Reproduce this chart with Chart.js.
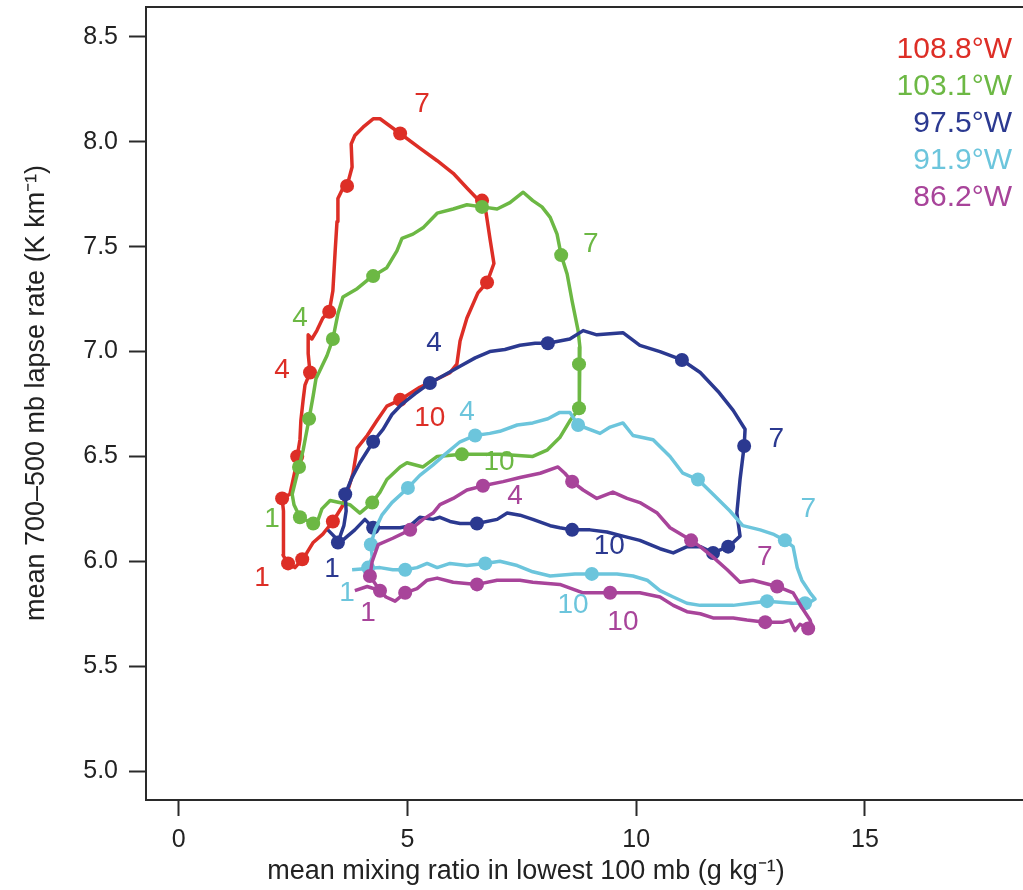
<!DOCTYPE html>
<html>
<head>
<meta charset="utf-8">
<script src="https://cdn.jsdelivr.net/npm/chart.js@4.4.1/dist/chart.umd.min.js"></script>
<style>
    html, body { margin: 0; padding: 0; background: #fff; }
    #wrap { width: 1023px; height: 890px; position: relative; }
</style>
</head>
<body>
<div id="wrap"><canvas id="loopChart"></canvas></div>
<script>
// Series names (longitude of each transect point)
const seriesNames = ['108.8°W', '103.1°W', '97.5°W', '91.9°W', '86.2°W'];

// Each point: [mixing ratio (g/kg), lapse rate (K/km), month marker (0 = none)]
const w1088 = [
    [2.39,5.99,1],[2.28,6.03,0],[2.28,6.15,0],[2.30,6.24,0],[2.26,6.30,2],[2.43,6.32,0],[2.50,6.39,0],
    [2.54,6.43,0],[2.59,6.50,3],[2.65,6.58,0],[2.67,6.67,0],[2.72,6.77,0],[2.76,6.84,0],[2.87,6.90,4],
    [2.83,6.99,0],[2.83,7.08,0],[2.91,7.06,0],[3.02,7.10,0],[3.15,7.16,0],[3.29,7.19,5],[3.37,7.29,0],
    [3.42,7.48,0],[3.46,7.62,0],[3.48,7.73,0],[3.57,7.77,0],[3.68,7.79,6],[3.79,7.88,0],[3.77,7.99,0],
    [3.85,8.03,0],[4.03,8.07,0],[4.25,8.11,0],[4.40,8.11,0],[4.84,8.04,7],[5.27,7.97,0],[5.65,7.91,0],
    [6.00,7.85,0],[6.30,7.78,0],[6.52,7.73,0],[6.63,7.72,8],[6.72,7.66,0],[6.81,7.53,0],[6.89,7.42,0],
    [6.74,7.33,9],[6.54,7.28,0],[6.30,7.16,0],[6.15,7.05,0],[6.08,6.94,0],[5.93,6.90,0],[5.56,6.86,0],
    [5.27,6.83,0],[4.84,6.77,10],[4.55,6.74,0],[4.33,6.67,0],[4.12,6.60,0],[3.90,6.54,0],[3.81,6.42,0],
    [3.70,6.34,0],[3.57,6.26,0],[3.37,6.19,11],[3.15,6.13,0],[2.94,6.09,0],[2.80,6.04,0],[2.70,6.01,12],
    [2.54,5.97,0],[2.39,5.99,0]
];
const w1031 = [
    [2.65,6.21,1],[2.52,6.27,0],[2.48,6.32,0],[2.56,6.39,0],[2.63,6.45,2],[2.72,6.53,0],[2.78,6.60,0],
    [2.85,6.68,3],[2.94,6.79,0],[3.00,6.87,0],[3.13,6.93,0],[3.24,6.98,0],[3.37,7.06,4],[3.48,7.18,0],
    [3.59,7.26,0],[3.90,7.30,0],[4.12,7.34,0],[4.25,7.36,5],[4.55,7.40,0],[4.77,7.48,0],[4.88,7.54,0],
    [5.12,7.56,0],[5.34,7.59,0],[5.65,7.66,0],[6.00,7.68,0],[6.30,7.70,0],[6.63,7.69,6],[6.96,7.68,0],
    [7.24,7.71,0],[7.53,7.76,0],[7.74,7.72,0],[7.94,7.69,0],[8.12,7.64,0],[8.27,7.56,0],[8.36,7.46,7],
    [8.49,7.37,0],[8.60,7.24,0],[8.73,7.10,0],[8.77,7.02,0],[8.75,6.94,8],[8.77,6.86,0],[8.75,6.73,9],
    [8.55,6.67,0],[8.33,6.59,0],[8.05,6.53,0],[7.74,6.50,0],[7.02,6.51,0],[6.59,6.51,0],[6.19,6.51,10],
    [5.65,6.50,0],[5.34,6.45,0],[4.99,6.47,0],[4.84,6.45,0],[4.55,6.39,0],[4.40,6.33,0],[4.23,6.28,11],
    [3.96,6.23,0],[3.74,6.27,0],[3.31,6.29,0],[3.13,6.25,0],[3.05,6.20,0],[2.94,6.18,12],[2.65,6.21,0]
];
const w975 = [
    [3.48,6.09,1],[3.61,6.17,0],[3.66,6.24,0],[3.64,6.32,2],[3.79,6.40,0],[3.96,6.47,0],[4.25,6.57,3],
    [4.47,6.63,0],[4.66,6.70,0],[4.88,6.75,0],[5.17,6.80,0],[5.49,6.85,4],[5.82,6.89,0],[6.15,6.93,0],
    [6.48,6.97,0],[6.80,7.00,0],[7.13,7.01,0],[7.46,7.03,0],[7.79,7.04,0],[8.07,7.04,5],[8.55,7.06,0],
    [8.84,7.10,0],[9.14,7.08,0],[9.71,7.09,0],[10.08,7.03,0],[10.52,7.00,0],[11.00,6.96,6],[11.40,6.90,0],
    [11.79,6.81,0],[12.12,6.72,0],[12.38,6.63,0],[12.36,6.55,7],[12.27,6.39,0],[12.20,6.23,0],[12.27,6.12,0],
    [12.12,6.09,0],[12.01,6.07,8],[11.68,6.04,9],[11.40,6.07,0],[11.11,6.07,0],[10.81,6.04,0],[10.52,6.06,0],
    [10.08,6.10,0],[9.71,6.12,0],[9.36,6.14,0],[8.99,6.15,0],[8.60,6.15,10],[8.33,6.16,0],[8.12,6.17,0],
    [7.74,6.20,0],[7.46,6.22,0],[7.18,6.23,0],[6.96,6.20,0],[6.52,6.18,11],[6.15,6.18,0],[5.93,6.19,0],
    [5.71,6.21,0],[5.56,6.20,0],[5.27,6.21,0],[5.06,6.17,0],[4.84,6.16,0],[4.62,6.16,0],[4.25,6.16,12],
    [4.07,6.20,0],[3.85,6.15,0],[3.53,6.09,0],[3.26,6.15,0]
];
const w919 = [
    [4.14,5.97,1],[4.23,6.02,0],[4.20,6.08,2],[4.29,6.15,0],[4.44,6.22,0],[4.66,6.28,0],[5.01,6.35,3],
    [5.27,6.41,0],[5.56,6.46,0],[5.82,6.51,0],[6.15,6.57,0],[6.48,6.60,4],[6.80,6.61,0],[7.02,6.62,0],
    [7.40,6.65,0],[7.74,6.66,0],[8.07,6.68,0],[8.33,6.71,0],[8.55,6.71,0],[8.73,6.65,5],[9.21,6.61,0],
    [9.43,6.64,0],[9.71,6.66,0],[9.93,6.60,0],[10.37,6.58,0],[10.74,6.50,0],[11.02,6.42,0],[11.35,6.39,6],
    [11.68,6.32,0],[12.05,6.24,0],[12.33,6.17,0],[12.71,6.15,0],[12.99,6.13,0],[13.25,6.10,7],[13.43,6.07,0],
    [13.52,5.97,0],[13.62,5.91,0],[13.80,5.85,0],[13.91,5.82,0],[13.76,5.80,0],[13.69,5.80,8],[13.41,5.80,0],
    [12.86,5.81,9],[12.49,5.80,0],[12.12,5.79,0],[11.40,5.79,0],[11.11,5.80,0],[10.81,5.83,0],[10.52,5.86,0],
    [10.24,5.91,0],[9.93,5.93,0],[9.58,5.94,0],[9.03,5.94,10],[8.66,5.94,0],[8.12,5.93,0],[7.74,5.95,0],
    [7.40,5.98,0],[7.02,6.00,0],[6.70,5.99,11],[6.30,5.98,0],[5.93,5.99,0],[5.65,5.97,0],[5.43,5.99,0],
    [5.21,5.97,0],[4.95,5.96,12],[4.68,5.96,0],[4.40,5.97,0],[3.79,5.96,0]
];
const w862 = [
    [4.40,5.86,1],[4.18,5.93,2],[4.23,6.00,0],[4.36,6.08,0],[4.68,6.11,0],[5.06,6.15,3],[5.34,6.20,0],
    [5.56,6.23,0],[5.71,6.27,0],[6.00,6.30,0],[6.30,6.34,0],[6.65,6.36,4],[7.09,6.38,0],[7.46,6.40,0],
    [7.90,6.42,0],[8.29,6.45,0],[8.44,6.42,0],[8.60,6.38,5],[8.84,6.34,0],[9.14,6.30,0],[9.49,6.33,0],
    [9.80,6.30,0],[10.08,6.28,0],[10.46,6.23,0],[10.74,6.16,0],[11.20,6.10,6],[11.40,6.07,0],[11.68,6.02,0],
    [11.99,5.96,0],[12.27,5.90,0],[12.55,5.91,0],[13.08,5.88,7],[13.43,5.85,0],[13.62,5.78,0],[13.80,5.72,0],
    [13.84,5.69,0],[13.76,5.68,8],[13.58,5.70,0],[13.47,5.67,0],[13.36,5.72,0],[13.21,5.71,0],[12.82,5.71,9],
    [12.42,5.72,0],[12.12,5.73,0],[11.68,5.73,0],[11.40,5.75,0],[11.11,5.76,0],[10.81,5.79,0],[10.52,5.83,0],
    [10.08,5.85,0],[9.43,5.85,10],[8.84,5.85,0],[8.33,5.89,0],[7.74,5.90,0],[7.46,5.91,0],[6.96,5.91,0],
    [6.52,5.89,11],[6.00,5.90,0],[5.65,5.92,0],[5.43,5.91,0],[5.21,5.87,0],[4.95,5.85,12],[4.73,5.81,0],
    [4.53,5.83,0],[4.40,5.86,0],[4.12,5.88,0],[3.85,5.86,0]
];

// Month labels written next to the curves: [text, x, y]
const labels1088 = [['1',1.82,5.92],['4',2.26,6.91],['7',5.32,8.18],['10',5.49,6.68]];
const labels1031 = [['1',2.04,6.20],['4',2.65,7.16],['7',9.01,7.51],['10',7.00,6.47]];
const labels975  = [['1',3.35,5.96],['4',5.58,7.04],['7',13.06,6.58],['10',9.41,6.07]];
const labels919  = [['1',3.68,5.85],['4',6.30,6.71],['7',13.76,6.25],['10',8.62,5.79]];
const labels862  = [['1',4.14,5.75],['4',7.35,6.31],['7',12.81,6.02],['10',9.71,5.71]];

// Axis ticks and titles
const xTicks = [0, 5, 10, 15];
const yTicks = [5.0, 5.5, 6.0, 6.5, 7.0, 7.5, 8.0, 8.5];
const xTitle = 'mean mixing ratio in lowest 100 mb (g kg⁻¹)';
const yTitle = 'mean 700–500 mb lapse rate (K km⁻¹)';

const seriesData = [w1088, w1031, w975, w919, w862];
const seriesLabels = [labels1088, labels1031, labels975, labels919, labels862];
const seriesColors = ['#dd2e26', '#6cb844', '#2b3990', '#6cc5dc', '#a8449a'];

const FONT = '"Liberation Sans", Arial, Helvetica, sans-serif';
const AXIS_COLOR = '#2a2a2a';

// Top frame line (left and bottom come from the axes) and the axis titles
const framePlugin = {
    id: 'frame',
    afterDraw(chart) {
        const { ctx, chartArea } = chart;
        ctx.save();
        ctx.strokeStyle = AXIS_COLOR;
        ctx.lineWidth = 2;
        ctx.beginPath();
        ctx.moveTo(chartArea.left - 1, chartArea.top);
        ctx.lineTo(chartArea.right, chartArea.top);
        ctx.stroke();

        ctx.fillStyle = '#222';
        ctx.font = '27px ' + FONT;
        ctx.textAlign = 'center';
        ctx.textBaseline = 'middle';
        ctx.fillText(xTitle, 526, 872);

        ctx.translate(37, 393);
        ctx.rotate(-Math.PI / 2);
        ctx.fillText(yTitle, 0, 0);
        ctx.restore();
    }
};

// Month numbers next to the loops
const monthLabelPlugin = {
    id: 'monthLabels',
    afterDatasetsDraw(chart) {
        const { ctx, scales } = chart;
        ctx.save();
        ctx.font = '28px ' + FONT;
        ctx.textAlign = 'center';
        ctx.textBaseline = 'middle';
        seriesLabels.forEach((list, i) => {
            ctx.fillStyle = seriesColors[i];
            list.forEach(([text, x, y]) => {
                ctx.fillText(text, scales.x.getPixelForValue(x), scales.y.getPixelForValue(y));
            });
        });
        ctx.restore();
    }
};

// Coloured text legend in the upper right
const textLegendPlugin = {
    id: 'textLegend',
    afterDraw(chart) {
        const { ctx, chartArea } = chart;
        ctx.save();
        ctx.font = '30px ' + FONT;
        ctx.textAlign = 'right';
        ctx.textBaseline = 'middle';
        seriesNames.forEach((name, i) => {
            ctx.fillStyle = seriesColors[i];
            ctx.fillText(name, chartArea.right - 11, chartArea.top + 43 + i * 37);
        });
        ctx.restore();
    }
};

const datasets = seriesData.map((pts, i) => ({
    label: seriesNames[i],
    data: pts.map(p => ({ x: p[0], y: p[1], month: p[2] })),
    showLine: true,
    tension: 0,
    borderColor: seriesColors[i],
    backgroundColor: seriesColors[i],
    borderWidth: 3.5,
    borderJoinStyle: 'round',
    pointRadius: ctx => (ctx.raw && ctx.raw.month ? 7 : 0),
    pointHoverRadius: 0,
    pointBorderWidth: 0,
    order: seriesData.length - i
}));

new Chart(document.getElementById('loopChart'), {
    type: 'scatter',
    data: { datasets },
    options: {
        responsive: true,
        maintainAspectRatio: false,
        animation: false,
        layout: { autoPadding: false, padding: { top: 7, right: 0, bottom: 0, left: 0 } },
        plugins: {
            legend: { display: false },
            tooltip: { enabled: false }
        },
        scales: {
            x: {
                type: 'linear',
                min: -0.715,
                max: 18.455,
                afterBuildTicks: scale => { scale.ticks = xTicks.map(v => ({ value: v })); },
                afterFit: scale => {
                    scale.height = 90;
                    scale.paddingLeft = 0;
                    scale.paddingRight = 0;
                },
                ticks: {
                    font: { family: FONT, size: 25 },
                    color: '#222',
                    padding: 9,
                    maxRotation: 0,
                    callback: v => String(v)
                },
                grid: { drawOnChartArea: false, drawTicks: true, tickLength: 16, tickWidth: 2, tickColor: AXIS_COLOR },
                border: { display: true, color: AXIS_COLOR, width: 2 }
            },
            y: {
                type: 'linear',
                min: 4.862,
                max: 8.643,
                afterBuildTicks: scale => { scale.ticks = yTicks.map(v => ({ value: v })); },
                afterFit: scale => {
                    scale.width = 146;
                    scale.paddingTop = 0;
                    scale.paddingBottom = 0;
                },
                ticks: {
                    font: { family: FONT, size: 25 },
                    color: '#222',
                    padding: 11,
                    callback: v => Number(v).toFixed(1)
                },
                grid: { drawOnChartArea: false, drawTicks: true, tickLength: 17, tickWidth: 2, tickColor: AXIS_COLOR },
                border: { display: true, color: AXIS_COLOR, width: 2 }
            }
        }
    },
    plugins: [framePlugin, monthLabelPlugin, textLegendPlugin]
});
</script>
</body>
</html>
